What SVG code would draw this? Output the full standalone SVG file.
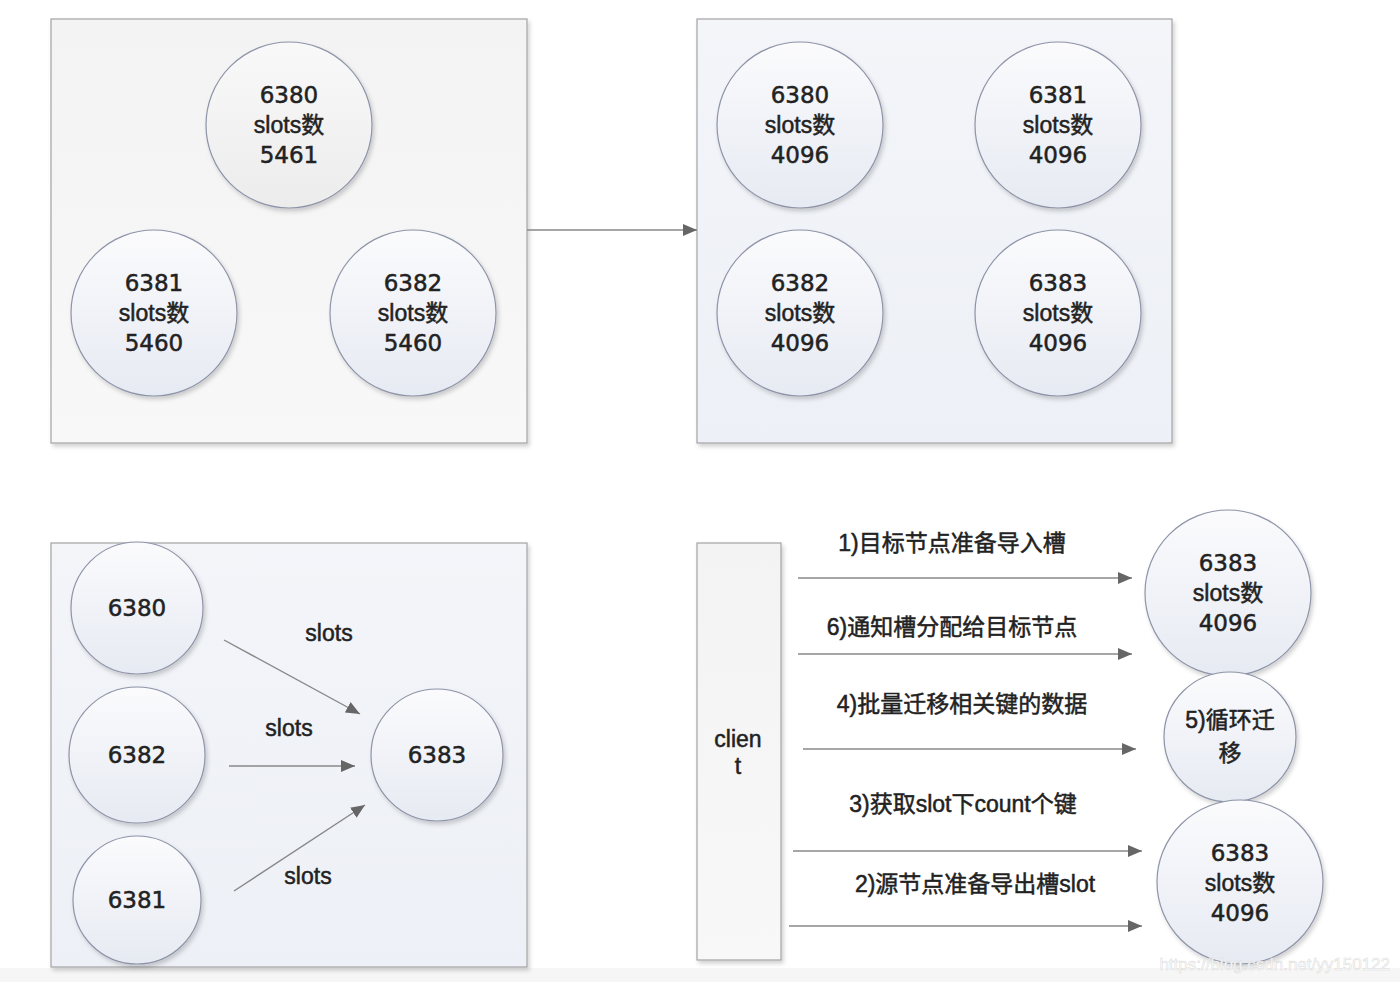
<svg xmlns="http://www.w3.org/2000/svg" width="1400" height="982" viewBox="0 0 1400 982">
<defs>
<linearGradient id="gGray" x1="0" y1="0" x2="0" y2="1"><stop offset="0" stop-color="#f3f3f3"/><stop offset="1" stop-color="#f8f8f8"/></linearGradient>
<linearGradient id="gBlue" x1="0" y1="0" x2="0" y2="1"><stop offset="0" stop-color="#f3f5f9"/><stop offset="1" stop-color="#edf0f6"/></linearGradient>
<linearGradient id="cBlue" x1="0" y1="0" x2="0" y2="1"><stop offset="0" stop-color="#fbfbfd"/><stop offset="1" stop-color="#e6eaf2"/></linearGradient>
<linearGradient id="cGray" x1="0" y1="0" x2="0" y2="1"><stop offset="0" stop-color="#f9f9f9"/><stop offset="1" stop-color="#ececec"/></linearGradient>
<filter id="sh" x="-10%" y="-10%" width="120%" height="120%"><feDropShadow dx="2" dy="3" stdDeviation="2" flood-color="#000" flood-opacity="0.18"/></filter>
<marker id="ah" viewBox="0 0 14 12" refX="14" refY="6" markerWidth="14" markerHeight="12" markerUnits="userSpaceOnUse" orient="auto"><path d="M0,0 L14,6 L0,12 Z" fill="#666"/></marker>
</defs>
<style>
.box{stroke:#a3a3a3;stroke-width:1.2}
.cir{stroke:#8e94a8;stroke-width:1.2}
.num{font-family:"DejaVu Sans","Liberation Sans",sans-serif;font-size:23px;fill:#222;stroke:#222;stroke-width:0.5;text-anchor:middle}
.txt{font-family:"Liberation Sans","Noto Sans CJK SC",sans-serif;font-size:23px;fill:#222;stroke:#222;stroke-width:0.5;text-anchor:middle}
.lbl{font-family:"Liberation Sans","Noto Sans CJK SC",sans-serif;font-size:23px;fill:#222;stroke:#222;stroke-width:0.5;text-anchor:middle}
.conn line{stroke:#888;stroke-width:1.4;fill:none}
.wm{font-family:"Liberation Sans",sans-serif;font-size:17px;fill:#fff;stroke:#d8d8d8;stroke-width:0.5}
</style>
<rect width="1400" height="982" fill="#ffffff"/>
<rect x="0" y="968" width="1400" height="14" fill="#f6f6f6"/>

<g id="box-before"><rect class="box" x="51" y="19" width="476" height="424" fill="url(#gGray)" filter="url(#sh)"/></g>
<g id="box-after"><rect class="box" x="697" y="19" width="475" height="424" fill="url(#gBlue)" filter="url(#sh)"/></g>
<g id="box-merge"><rect class="box" x="51" y="543" width="476" height="424" fill="url(#gBlue)" filter="url(#sh)"/></g>

<!-- top-left -->
<g id="tl-6380"><circle class="cir" cx="289" cy="125" r="83" fill="url(#cGray)" filter="url(#sh)"/><text class="num" x="289" y="103">6380</text><text class="txt" x="289" y="133">slots数</text><text class="num" x="289" y="163">5461</text></g>
<g id="tl-6381"><circle class="cir" cx="154" cy="313" r="83" fill="url(#cBlue)" filter="url(#sh)"/><text class="num" x="154" y="291">6381</text><text class="txt" x="154" y="321">slots数</text><text class="num" x="154" y="351">5460</text></g>
<g id="tl-6382"><circle class="cir" cx="413" cy="313" r="83" fill="url(#cBlue)" filter="url(#sh)"/><text class="num" x="413" y="291">6382</text><text class="txt" x="413" y="321">slots数</text><text class="num" x="413" y="351">5460</text></g>

<!-- top-right -->
<g id="tr-6380"><ellipse class="cir" cx="800" cy="125" rx="83" ry="83" fill="url(#cBlue)" filter="url(#sh)"/><text class="num" x="800" y="103">6380</text><text class="txt" x="800" y="133">slots数</text><text class="num" x="800" y="163">4096</text></g>
<g id="tr-6381"><ellipse class="cir" cx="1058" cy="125" rx="83" ry="83" fill="url(#cBlue)" filter="url(#sh)"/><text class="num" x="1058" y="103">6381</text><text class="txt" x="1058" y="133">slots数</text><text class="num" x="1058" y="163">4096</text></g>
<g id="tr-6382"><ellipse class="cir" cx="800" cy="313" rx="83" ry="83" fill="url(#cBlue)" filter="url(#sh)"/><text class="num" x="800" y="291">6382</text><text class="txt" x="800" y="321">slots数</text><text class="num" x="800" y="351">4096</text></g>
<g id="tr-6383"><ellipse class="cir" cx="1058" cy="313" rx="83" ry="83" fill="url(#cBlue)" filter="url(#sh)"/><text class="num" x="1058" y="291">6383</text><text class="txt" x="1058" y="321">slots数</text><text class="num" x="1058" y="351">4096</text></g>

<!-- bottom-left -->
<g id="bl-6380"><circle class="cir" cx="137" cy="608" r="66" fill="url(#cBlue)" filter="url(#sh)"/><text class="num" x="137" y="616">6380</text></g>
<g id="bl-6382"><circle class="cir" cx="137" cy="755" r="68" fill="url(#cBlue)" filter="url(#sh)"/><text class="num" x="137" y="763">6382</text></g>
<g id="bl-6381"><circle class="cir" cx="137" cy="900" r="64" fill="url(#cBlue)" filter="url(#sh)"/><text class="num" x="137" y="908">6381</text></g>
<g id="bl-6383"><circle class="cir" cx="437" cy="755" r="66" fill="url(#cBlue)" filter="url(#sh)"/><text class="num" x="437" y="763">6383</text></g>

<!-- bottom-right -->
<g id="client"><rect class="box" x="697" y="543" width="84" height="417" fill="url(#gGray)" filter="url(#sh)"/><text class="txt" x="738" y="747">clien</text><text class="txt" x="738" y="774">t</text></g>
<g id="br-6383-top"><ellipse class="cir" cx="1228" cy="593" rx="83" ry="83" fill="url(#cBlue)" filter="url(#sh)"/><text class="num" x="1228" y="571">6383</text><text class="txt" x="1228" y="601">slots数</text><text class="num" x="1228" y="631">4096</text></g>
<g id="br-loop"><ellipse class="cir" cx="1230" cy="737" rx="66" ry="65" fill="url(#cBlue)" filter="url(#sh)"/><text class="txt" x="1230" y="728">5)循环迁</text><text class="txt" x="1230" y="761">移</text></g>
<g id="br-6383-bot"><ellipse class="cir" cx="1240" cy="882" rx="83" ry="82" fill="url(#cBlue)" filter="url(#sh)"/><text class="num" x="1240" y="861">6383</text><text class="txt" x="1240" y="891">slots数</text><text class="num" x="1240" y="921">4096</text></g>

<g id="connectors" class="conn">
<line x1="527" y1="230" x2="697" y2="230" marker-end="url(#ah)"/>
<line x1="224" y1="640" x2="360" y2="714" marker-end="url(#ah)"/>
<line x1="229" y1="766" x2="355" y2="766" marker-end="url(#ah)"/>
<line x1="234" y1="891" x2="365" y2="805" marker-end="url(#ah)"/>
<line x1="798" y1="578" x2="1132" y2="578" marker-end="url(#ah)"/>
<line x1="798" y1="654" x2="1132" y2="654" marker-end="url(#ah)"/>
<line x1="803" y1="749" x2="1136" y2="749" marker-end="url(#ah)"/>
<line x1="793" y1="851" x2="1142" y2="851" marker-end="url(#ah)"/>
<line x1="789" y1="926" x2="1142" y2="926" marker-end="url(#ah)"/>
</g>

<g id="labels">
<text class="lbl" x="329" y="641">slots</text>
<text class="lbl" x="289" y="736">slots</text>
<text class="lbl" x="308" y="884">slots</text>
<text class="lbl" x="952" y="551">1)目标节点准备导入槽</text>
<text class="lbl" x="952" y="635">6)通知槽分配给目标节点</text>
<text class="lbl" x="962" y="712">4)批量迁移相关键的数据</text>
<text class="lbl" x="963" y="812">3)获取slot下count个键</text>
<text class="lbl" x="975" y="892">2)源节点准备导出槽slot</text>
</g>
<text class="wm" x="1390" y="970" text-anchor="end">https://blog.csdn.net/yy150122</text>
</svg>
